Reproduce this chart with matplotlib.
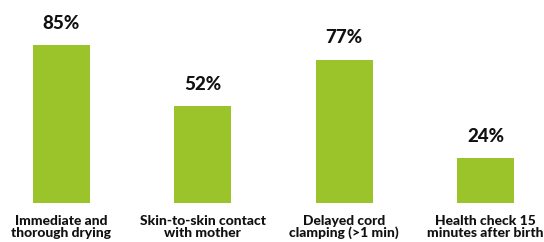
import matplotlib
matplotlib.use("Agg")
import matplotlib.pyplot as plt

categories = ["Immediate and\nthorough drying", "Skin-to-skin contact\nwith mother",
              "Delayed cord\nclamping (>1 min)", "Health check 15\nminutes after birth"]
values = [85, 52, 77, 24]
value_labels = ["85%", "52%", "77%", "24%"]

fig = plt.figure(figsize=(5.44, 2.42), dpi=100)
ax = fig.add_axes([0, 0, 1, 1])
x = list(range(len(values)))
ax.bar(x, values, width=0.403, color="#9BC42A")
ax.set_xlim(-0.435, 3.414)
ax.set_ylim(-20.98, 109.2)
ax.axis("off")

for xi, v, lab in zip(x, values, value_labels):
    ax.text(xi, v + 11.8, lab, ha="center", va="center", fontsize=13.5,
            fontweight="black", color="#111111", family="Lato")

for xi, c in zip(x, categories):
    ax.text(xi, -12.9, c, ha="center", va="center", fontsize=10, fontweight="black",
            color="#111111", family="Lato", linespacing=0.95)

fig.savefig("out.png", dpi=100)
